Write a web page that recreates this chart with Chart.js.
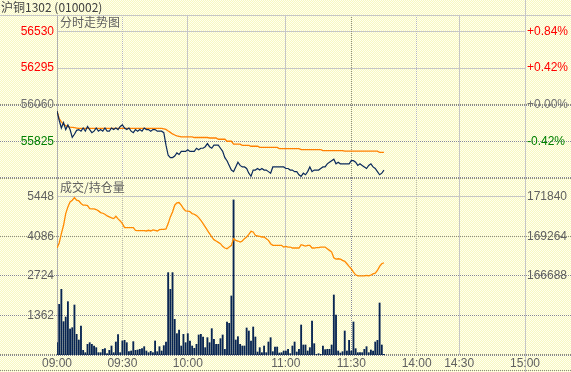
<!DOCTYPE html>
<html>
<head>
<meta charset="utf-8">
<script src="https://cdn.jsdelivr.net/npm/chart.js@4.4.1/dist/chart.umd.min.js"></script>
<style>
  html, body { margin: 0; padding: 0; }
  body {
    width: 571px; height: 372px; overflow: hidden;
    background-color: #FFFFE2;
    background-image: repeating-conic-gradient(#F8F8C0 0 25%, #FFFFF0 0 50%);
    background-size: 2px 2px;
  }
  #wrap { position: relative; width: 571px; height: 372px; }
  canvas { position: absolute; left: 0; }
  #priceChart { top: 0; }
  #volChart { top: 178px; }
</style>
</head>
<body>
<div id="wrap">
  <canvas id="priceChart" width="571" height="180"></canvas>
  <canvas id="volChart" width="571" height="194"></canvas>
</div>
<script>
// 时间轴 (分钟序号)
const timeLabels = ['09:00', '09:30', '10:00', '11:00', '11:30', '14:00', '14:30', '15:00'];
const timeSlots = [0, 30, 60, 105, 135, 165, 184.5, 214.7];

const preClose = 56060;
const priceTicks = [55825, 56060, 56295, 56530];
const volTicks = [1362, 2724, 4086, 5448];
const oiTicks = [166688, 169264, 171840];

// 分时价格
const price = [
  56020, 55960, 55910, 55945, 55900, 55930, 55900, 55850, 55870, 55895,
  55900, 55890, 55910, 55890, 55920, 55900, 55880, 55890, 55910, 55890,
  55900, 55890, 55910, 55890, 55890, 55910, 55900, 55910, 55900, 55920,
  55930, 55910, 55900, 55910, 55890, 55880, 55900, 55890, 55900, 55890,
  55910, 55900, 55900, 55890, 55900, 55900, 55890, 55890, 55890, 55880,
  55800, 55735, 55720, 55720, 55730, 55750, 55740, 55760, 55760, 55760,
  55770, 55760, 55760, 55760, 55780, 55770, 55780, 55780, 55790, 55810,
  55790, 55780, 55800, 55800, 55800, 55780, 55760, 55720, 55700, 55670,
  55640, 55630, 55660, 55690, 55670, 55660, 55660, 55650, 55620, 55600,
  55640, 55640, 55650, 55640, 55650, 55640, 55640, 55630, 55620, 55660,
  55660, 55660, 55660, 55660, 55660, 55650, 55650, 55640, 55640, 55630,
  55630, 55610, 55600, 55620, 55610, 55630, 55660, 55630, 55640, 55640,
  55640, 55650, 55660, 55660, 55680, 55690, 55700, 55710, 55680, 55690,
  55680, 55680, 55680, 55680, 55680, 55700, 55700, 55690, 55670, 55680,
  55670, 55660, 55650, 55670, 55680, 55660, 55650, 55630, 55610, 55620,
  55640
];

// 均价
const avgPrice = [
  56020, 55970, 55950, 55932, 55925, 55919, 55916, 55914, 55912, 55910,
  55908, 55908, 55908, 55908, 55908, 55908, 55908, 55908, 55908, 55908,
  55908, 55908, 55908, 55908, 55908, 55908, 55908, 55908, 55908, 55908,
  55908, 55908, 55908, 55908, 55908, 55908, 55908, 55908, 55908, 55908,
  55908, 55908, 55908, 55908, 55908, 55908, 55908, 55908, 55908, 55905,
  55901, 55891, 55882, 55872, 55865, 55859, 55856, 55853, 55853, 55853,
  55853, 55853, 55853, 55849, 55849, 55849, 55849, 55849, 55849, 55849,
  55846, 55846, 55846, 55846, 55838, 55838, 55838, 55838, 55825, 55825,
  55825, 55806, 55806, 55806, 55806, 55799, 55799, 55799, 55799, 55793,
  55793, 55793, 55793, 55786, 55786, 55786, 55786, 55786, 55786, 55786,
  55786, 55786, 55778, 55778, 55778, 55778, 55778, 55778, 55778, 55778,
  55778, 55778, 55771, 55771, 55771, 55771, 55771, 55771, 55771, 55771,
  55771, 55771, 55765, 55765, 55765, 55765, 55765, 55765, 55765, 55765,
  55765, 55765, 55761, 55761, 55761, 55761, 55761, 55761, 55761, 55761,
  55761, 55761, 55761, 55761, 55761, 55761, 55761, 55761, 55754, 55754,
  55754
];

// 成交量
const volume = [
  425, 1746, 2263, 1149, 1310, 1838, 896, 942, 1723, 712,
  517, 1000, 160, 80, 368, 425, 368, 310, 253, 80,
  80, 195, 218, 46, 160, 310, 80, 448, 700, 80,
  483, 505, 425, 115, 138, 460, 160, 172, 195, 218,
  287, 138, 80, 126, 80, 483, 115, 287, 138, 322,
  448, 2838, 2263, 2838, 1229, 735, 862, 310, 712, 425,
  735, 483, 310, 230, 368, 690, 712, 620, 253, 597,
  425, 908, 540, 368, 368, 563, 690, 195, 1138, 1092,
  2034, 5343, 517, 632, 368, 310, 310, 931, 827, 483,
  965, 620, 103, 253, 80, 310, 80, 448, 597, 115,
  276, 276, 69, 80, 138, 138, 195, 46, 310, 448,
  103, 195, 1034, 345, 345, 138, 253, 1172, 391, 23,
  46, 23, 310, 184, 195, 195, 345, 2068, 1379, 138,
  69, 115, 827, 138, 505, 138, 1138, 218, 80, 80,
  80, 195, 287, 80, 172, 138, 448, 505, 1792, 345,
  23
];

// 持仓量
const openInt = [
  168507, 168834, 169444, 169989, 170752, 171188, 171515, 171624, 171798, 171624,
  171580, 171406, 171297, 171297, 171275, 171079, 171057, 171057, 171014, 170926,
  170817, 170774, 170708, 170599, 170534, 170469, 170425, 170578, 170403, 170272,
  170098, 169836, 169836, 169836, 169836, 169836, 169662, 169640, 169640, 169640,
  169640, 169618, 169662, 169618, 169684, 169662, 169618, 169706, 169727, 169727,
  169749, 170098, 170534, 170861, 171297, 171450, 171471, 171297, 171079, 170926,
  170905, 170883, 170752, 170708, 170621, 170490, 170316, 170098, 169880, 169662,
  169444, 169226, 169052, 168964, 168877, 168790, 168616, 168507, 168463, 168572,
  168681, 169117, 169008, 168964, 168899, 168964, 169117, 169226, 169400, 169597,
  169553, 169335, 169291, 169270, 169226, 169226, 169117, 169008, 168790, 168681,
  168681, 168681, 168681, 168681, 168572, 168616, 168572, 168572, 168507, 168507,
  168507, 168507, 168725, 168681, 168637, 168681, 168681, 168507, 168507, 168528,
  168528, 168572, 168572, 168572, 168463, 168354, 168245, 167874, 167787, 167809,
  167787, 167700, 167635, 167482, 167308, 167155, 166937, 166763, 166697, 166697,
  166697, 166697, 166719, 166697, 166741, 166828, 166872, 167046, 167308, 167482,
  167547
];

/* 线型 */
const LIGHT = { c: '#C6C6C6', w: 1, d: [] };
const AXIS = { c: '#B0B0B0', w: 1, d: [] };
const LDOT = { c: '#B8B8B8', w: 1, d: [1, 1] };
const DOT = { c: '#8A8A8A', w: 1, d: [1, 1] };
const DOT2 = { c: '#8A8A8A', w: 2, d: [1, 1] };
const vStyles = [AXIS, LDOT, LIGHT, LIGHT, DOT, LDOT, LIGHT, LIGHT];

function hline(ctx, x1, x2, py, s) {
  const y = s.w === 2 ? Math.round(py) : Math.floor(py) + 0.5;
  ctx.beginPath();
  ctx.strokeStyle = s.c;
  ctx.lineWidth = s.w;
  ctx.setLineDash(s.d);
  ctx.moveTo(x1, y);
  ctx.lineTo(x2, y);
  ctx.stroke();
}
function vline(ctx, px, y1, y2, s) {
  const x = Math.floor(px) + 0.5;
  ctx.beginPath();
  ctx.strokeStyle = s.c;
  ctx.lineWidth = s.w;
  ctx.setLineDash(s.d);
  ctx.moveTo(x, y1);
  ctx.lineTo(x, y2);
  ctx.stroke();
}

// 网格和面板标题
function panelPlugin(rows, title, extra) {
  return {
    id: 'panel',
    beforeDraw(chart) {
      const { ctx, chartArea: a, scales } = chart;
      ctx.save();
      rows.forEach(r => {
        const py = scales.y.getPixelForValue(r.v);
        hline(ctx, r.full ? 0 : a.left, r.full ? chart.width : a.right, py, r.s);
      });
      timeSlots.forEach((t, k) => {
        const px = scales.x.getPixelForValue(t);
        const edge = k === timeSlots.length - 1;
        vline(ctx, px, edge ? 0 : a.top, edge ? chart.height : a.bottom, vStyles[k]);
      });
      if (extra) extra(ctx, chart);
      ctx.setLineDash([]);
      ctx.fillStyle = '#606060';
      ctx.font = '12px "Noto Sans CJK SC"';
      ctx.fillText(title.text, a.left + 3, title.y);
      ctx.restore();
    }
  };
}

function fixWidth(w) {
  return function(s) {
    s.width = w;
    s.paddingTop = 0;
    s.paddingBottom = 0;
  };
}

const tickFont = { family: 'Liberation Sans', size: 12 };
function priceColor(v) {
  if (v > preClose) return '#FF0000';
  if (v < preClose) return '#008000';
  return '#707070';
}

/* 分时走势图 */
new Chart(document.getElementById('priceChart'), {
  type: 'line',
  data: {
    datasets: [{
      data: price.map((v, i) => ({ x: i, y: v })),
      borderColor: '#0B2A5B',
      borderWidth: 1.2,
      pointRadius: 0,
      order: 0
    }, {
      data: avgPrice.map((v, i) => ({ x: i, y: v })),
      borderColor: '#FF8000',
      borderWidth: 1.3,
      pointRadius: 0,
      order: 1
    }]
  },
  options: {
    responsive: false,
    animation: false,
    devicePixelRatio: 1,
    events: [],
    layout: { autoPadding: false, padding: { top: 15, bottom: 2, left: 0, right: 0 } },
    plugins: { legend: { display: false }, tooltip: { enabled: false } },
    scales: {
      x: { type: 'linear', display: false, min: 0, max: 214.7, offset: false },
      y: {
        position: 'left', min: 55589, max: 56636,
        afterFit: fixWidth(57),
        afterBuildTicks: s => { s.ticks = priceTicks.map(v => ({ value: v })); },
        grid: { display: false, drawTicks: false },
        border: { display: false },
        ticks: { padding: 3, font: tickFont, color: c => priceColor(c.tick.value), callback: v => String(v) }
      },
      y2: {
        position: 'right', min: 55589, max: 56636,
        afterFit: fixWidth(46),
        afterBuildTicks: s => { s.ticks = priceTicks.map(v => ({ value: v })); },
        grid: { display: false, drawTicks: false },
        border: { display: false },
        ticks: {
          padding: 2, font: tickFont, color: c => priceColor(c.tick.value),
          callback: v => {
            const p = (v - preClose) / preClose * 100;
            return (p >= 0 ? '+' : '-') + Math.abs(p).toFixed(2) + '%';
          }
        }
      }
    }
  },
  plugins: [panelPlugin([
    { v: 56530, s: LIGHT },
    { v: 56295, s: LIGHT },
    { v: 56060, s: DOT2, full: true },
    { v: 55825, s: DOT, full: true },
    { v: 55589, s: DOT2, full: true }
  ], { text: '分时走势图', y: 27 }, (ctx, chart) => {
    hline(ctx, 0, chart.width, 15, LIGHT);
    ctx.setLineDash([]);
    ctx.fillStyle = '#404040';
    ctx.font = '12px "Noto Sans CJK SC"';
    ctx.fillText('沪铜1302 (010002)', 1, 12);
  })]
});

/* 成交/持仓量 */
new Chart(document.getElementById('volChart'), {
  type: 'bar',
  data: {
    datasets: [{
      type: 'line',
      data: openInt.map((v, i) => ({ x: i, y: v })),
      yAxisID: 'y2',
      borderColor: '#FF8A00',
      borderWidth: 1.3,
      pointRadius: 0,
      order: 0
    }, {
      type: 'bar',
      data: volume.map((v, i) => ({ x: i, y: v })),
      yAxisID: 'y',
      backgroundColor: '#082552',
      barThickness: 1.2,
      order: 1
    }]
  },
  options: {
    responsive: false,
    animation: false,
    devicePixelRatio: 1,
    events: [],
    layout: { autoPadding: false, padding: 0 },
    plugins: { legend: { display: false }, tooltip: { enabled: false } },
    scales: {
      x: {
        type: 'linear', min: 0, max: 214.7, offset: false,
        afterFit: s => { s.height = 17; s.paddingLeft = 0; s.paddingRight = 0; },
        afterBuildTicks: s => { s.ticks = timeSlots.map(v => ({ value: v })); },
        grid: { display: false, drawTicks: false, offset: false },
        border: { display: false },
        ticks: {
          padding: 1, font: tickFont, color: '#606060', autoSkip: false, maxRotation: 0,
          callback: v => timeLabels[timeSlots.indexOf(v)]
        }
      },
      y: {
        position: 'left', min: 0, max: 6099,
        afterFit: fixWidth(57),
        afterBuildTicks: s => { s.ticks = volTicks.map(v => ({ value: v })); },
        grid: { display: false, drawTicks: false },
        border: { display: false },
        ticks: { padding: 3, font: tickFont, color: '#606060', callback: v => String(v) }
      },
      y2: {
        position: 'right', min: 161536, max: 173070,
        afterFit: fixWidth(46),
        afterBuildTicks: s => { s.ticks = oiTicks.map(v => ({ value: v })); },
        grid: { display: false, drawTicks: false },
        border: { display: false },
        ticks: { padding: 2, font: tickFont, color: '#606060', callback: v => String(v) }
      }
    }
  },
  plugins: [panelPlugin([
    { v: 5448, s: LIGHT },
    { v: 4086, s: DOT, full: true },
    { v: 2724, s: DOT, full: true },
    { v: 1362, s: DOT, full: true },
    { v: 0, s: DOT2, full: true }
  ], { text: '成交/持仓量', y: 14 }, (ctx, chart) => {
    hline(ctx, 0, chart.width, 192, DOT);
  })]
});
</script>
</body>
</html>
